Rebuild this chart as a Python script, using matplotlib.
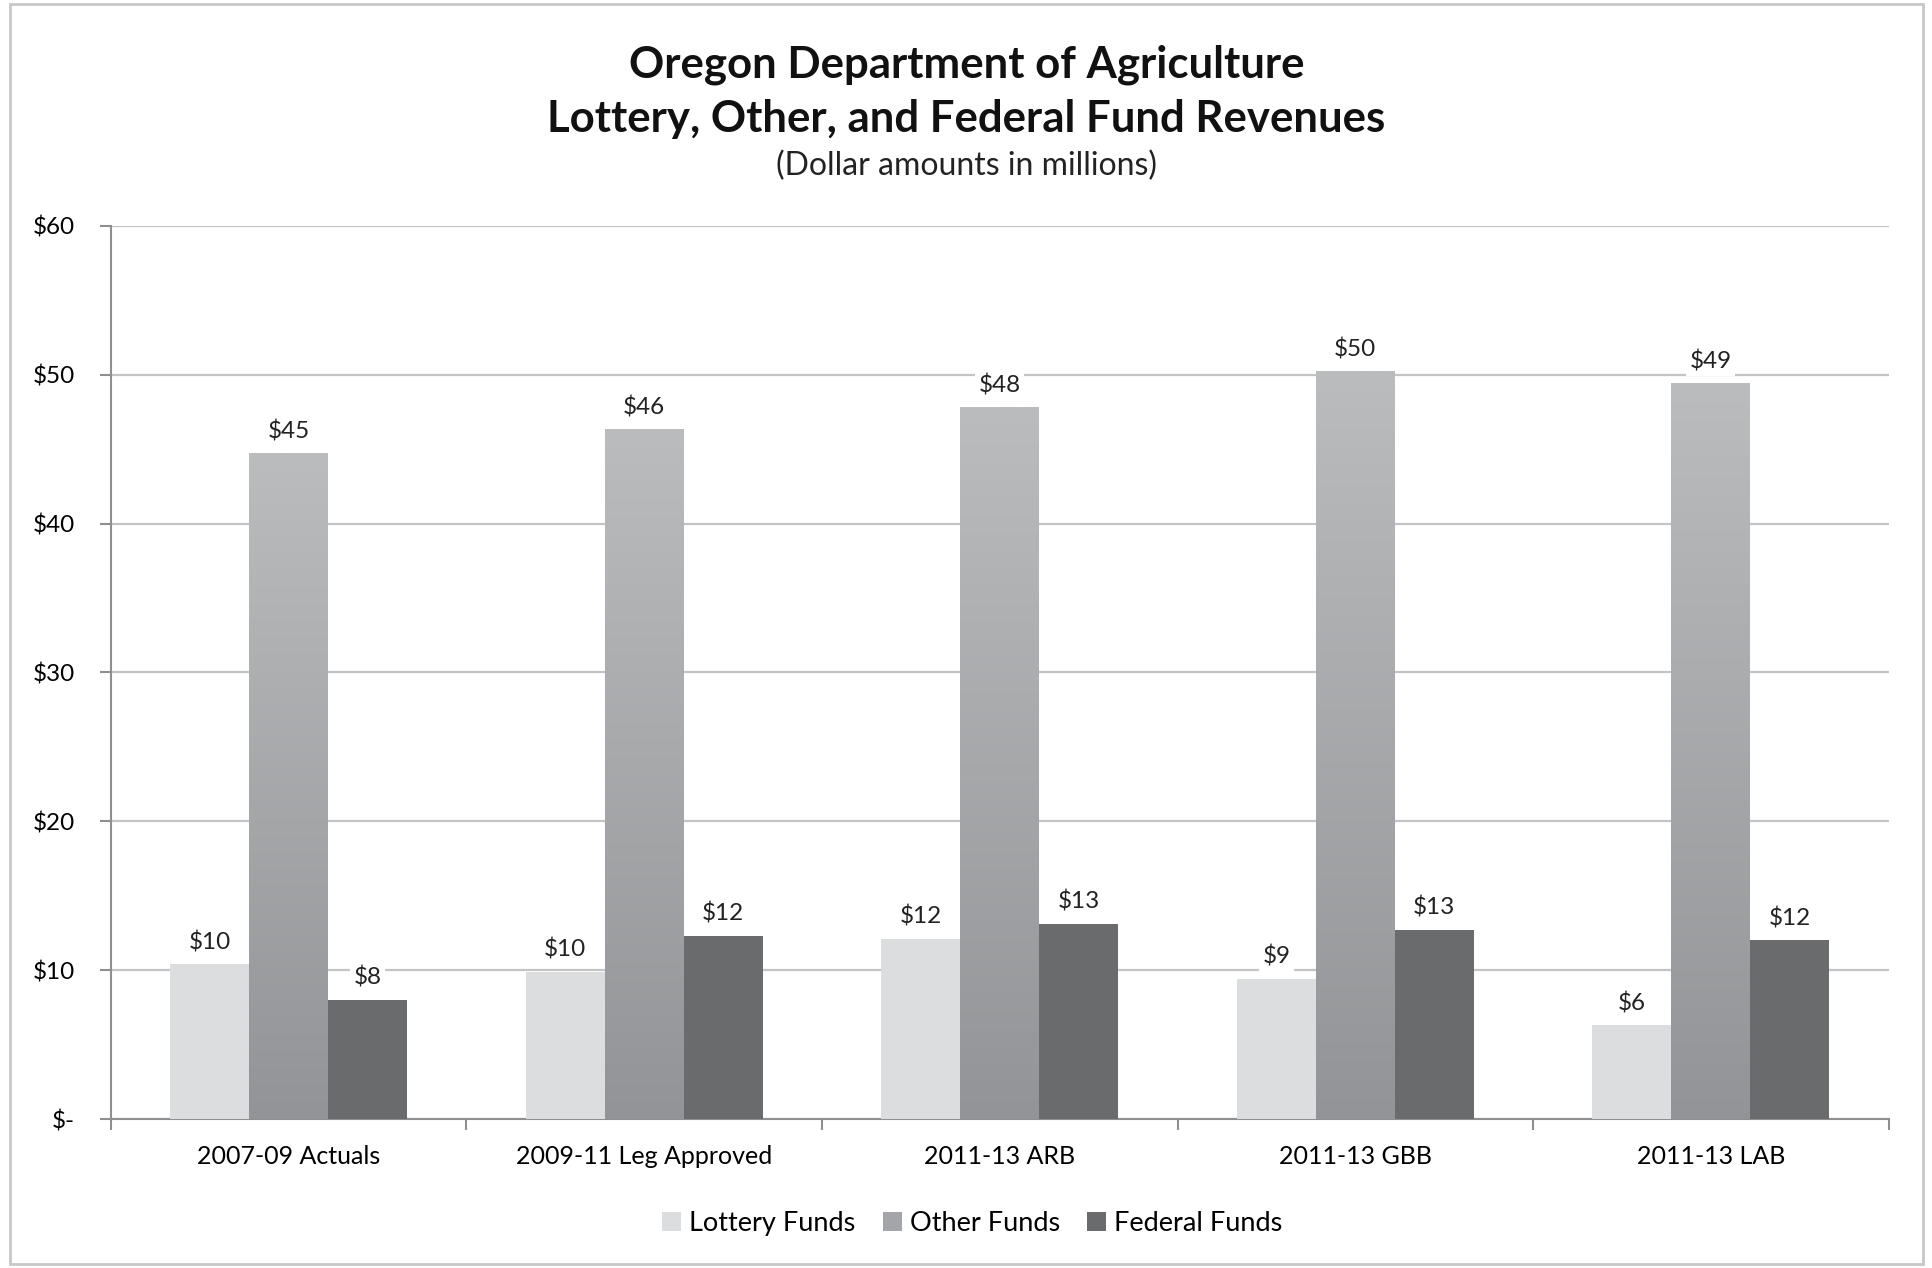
import numpy as np
import matplotlib
matplotlib.use("Agg")
import matplotlib.pyplot as plt
from matplotlib.colors import LinearSegmentedColormap
from matplotlib.patches import Rectangle

categories = ["2007-09 Actuals", "2009-11 Leg Approved", "2011-13 ARB", "2011-13 GBB", "2011-13 LAB"]
lottery = [10.4, 9.9, 12.1, 9.4, 6.3]
other = [44.7, 46.3, 47.8, 50.2, 49.4]
federal = [8.0, 12.3, 13.1, 12.7, 12.0]
series_names = ["Lottery Funds", "Other Funds", "Federal Funds"]

plt.rcParams["font.family"] = ["Lato", "DejaVu Sans"]

fig = plt.figure(figsize=(19.33, 12.68), dpi=100)
ax = fig.add_axes([0.0574, 0.1175, 0.9196, 0.7043])

x = np.arange(len(categories))
w = 0.222
c_lot = "#dcdddf"
c_oth = "#a4a5a8"
c_fed = "#6a6b6d"

b1 = ax.bar(x - w, lottery, w, color=c_lot, zorder=3, label=series_names[0])
b2 = ax.bar(x, other, w, color=c_oth, zorder=3, label=series_names[1])
b3 = ax.bar(x + w, federal, w, color=c_fed, zorder=3, label=series_names[2])

# vertical gradient on the "other" bars
cmap = LinearSegmentedColormap.from_list("g", ["#929497", "#bbbcbe"])
grad = np.linspace(0, 1, 256).reshape(-1, 1)
for rect in b2:
    x0 = rect.get_x()
    h = rect.get_height()
    ax.imshow(grad, cmap=cmap, origin="lower", aspect="auto",
              extent=[x0, x0 + rect.get_width(), 0, h], zorder=3.5)

for bars, vals in [(b1, lottery), (b2, other), (b3, federal)]:
    for rect, v in zip(bars, vals):
        ax.annotate("${:.0f}".format(v), (rect.get_x() + rect.get_width() / 2, v),
                    xytext=(0, 8), textcoords="offset points", ha="center", va="bottom",
                    fontsize=17.5, color="#222222", zorder=5,
                    bbox=dict(boxstyle="square,pad=0.15", fc="white", ec="none"))

ax.set_xlim(-0.5, len(categories) - 0.5)
ax.set_ylim(0, 60)
ax.set_yticks([0, 10, 20, 30, 40, 50, 60])
ax.set_yticklabels(["$-", "$10", "$20", "$30", "$40", "$50", "$60"], fontsize=17.5)
ax.set_xticks(x)
ax.set_xticklabels(categories, fontsize=18)
ax.set_xticks(np.arange(-0.5, len(categories)), minor=True)
ax.tick_params(axis="x", which="major", length=0, pad=19)
ax.tick_params(axis="x", which="minor", length=8, color="#8f8f8f", width=1.5)
ax.tick_params(axis="y", length=8, color="#8f8f8f", width=1.5, pad=18)
ax.yaxis.grid(True, color="#c4c4c4", linewidth=1.6, zorder=0)
ax.set_axisbelow(True)
for s in ["top", "right"]:
    ax.spines[s].set_visible(False)
for s in ["left", "bottom"]:
    ax.spines[s].set_color("#8f8f8f")
    ax.spines[s].set_linewidth(1.5)

fig.text(0.5, 0.949, "Oregon Department of Agriculture", ha="center", va="center",
         fontsize=31.5, fontweight="bold", color="#111111")
fig.text(0.5, 0.906, "Lottery, Other, and Federal Fund Revenues", ha="center", va="center",
         fontsize=31.5, fontweight="bold", color="#111111")
fig.text(0.5, 0.869, "(Dollar amounts in millions)", ha="center", va="center",
         fontsize=23, color="#222222")

leg = fig.legend(handles=[b1, b2, b3], loc="center", bbox_to_anchor=(0.503, 0.035),
                 ncol=3, frameon=False, fontsize=19.5, handlelength=0.7, handleheight=0.7,
                 handletextpad=0.3, columnspacing=1.0)

fig.patches.append(Rectangle((0.005, 0.003), 0.99, 0.994, transform=fig.transFigure,
                             fill=False, ec="#c8c8c8", lw=2))

fig.savefig("out.png", dpi=100, facecolor="white")
